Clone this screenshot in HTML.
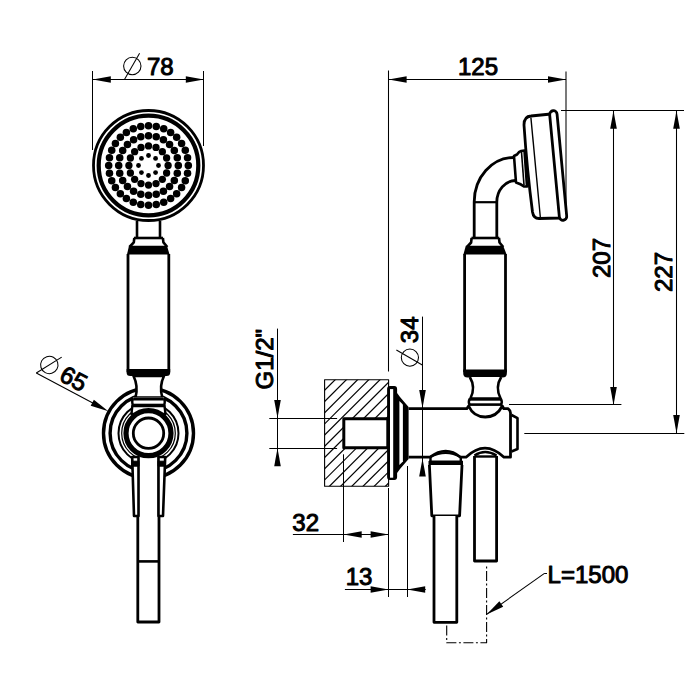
<!DOCTYPE html>
<html><head><meta charset="utf-8"><style>
html,body{margin:0;padding:0;background:#fff;}
svg{display:block;}
text{font-family:"Liberation Sans",sans-serif;fill:#000;stroke:none;}
.b{stroke:#000;stroke-width:1.0px;}
</style></head><body>
<svg width="700" height="700" viewBox="0 0 700 700" stroke="#000" fill="none" stroke-linecap="butt" stroke-linejoin="round">
<rect x="0" y="0" width="700" height="700" fill="#fff" stroke="none"/>
<line x1="92.5" y1="71" x2="92.5" y2="150" stroke-width="1.05" />
<line x1="203.5" y1="71" x2="203.5" y2="146" stroke-width="1.05" />
<line x1="92.8" y1="79.5" x2="203.8" y2="79.5" stroke-width="1.05" />
<polygon points="92.80,79.50 110.80,76.20 110.80,82.80" fill="#000" stroke="none"/>
<polygon points="203.80,79.50 185.80,82.80 185.80,76.20" fill="#000" stroke="none"/>
<g transform="translate(124.6,79.2) rotate(0)"><circle cx="7.7" cy="-13.2" r="8.7" stroke-width="1.05" fill="none"/><line x1="0" y1="0" x2="15" y2="-25.9" stroke-width="1.05"/><text x="22.4" y="-4.2" font-size="24" class="b">78</text></g>
<circle cx="148.5" cy="165.5" r="55" stroke-width="2.8" fill="#fff"/>
<circle cx="148.5" cy="165.5" r="49.8" stroke-width="4.2" fill="none"/>
<circle cx="148.50" cy="155.50" r="2.4" fill="#000" stroke="none"/>
<circle cx="155.57" cy="158.43" r="2.4" fill="#000" stroke="none"/>
<circle cx="158.50" cy="165.50" r="2.4" fill="#000" stroke="none"/>
<circle cx="155.57" cy="172.57" r="2.4" fill="#000" stroke="none"/>
<circle cx="148.50" cy="175.50" r="2.4" fill="#000" stroke="none"/>
<circle cx="141.43" cy="172.57" r="2.4" fill="#000" stroke="none"/>
<circle cx="138.50" cy="165.50" r="2.4" fill="#000" stroke="none"/>
<circle cx="141.43" cy="158.43" r="2.4" fill="#000" stroke="none"/>
<circle cx="148.50" cy="145.90" r="3.65" fill="#000" stroke="none"/>
<circle cx="156.00" cy="147.39" r="3.65" fill="#000" stroke="none"/>
<circle cx="162.36" cy="151.64" r="3.65" fill="#000" stroke="none"/>
<circle cx="166.61" cy="158.00" r="3.65" fill="#000" stroke="none"/>
<circle cx="168.10" cy="165.50" r="3.65" fill="#000" stroke="none"/>
<circle cx="166.61" cy="173.00" r="3.65" fill="#000" stroke="none"/>
<circle cx="162.36" cy="179.36" r="3.65" fill="#000" stroke="none"/>
<circle cx="156.00" cy="183.61" r="3.65" fill="#000" stroke="none"/>
<circle cx="148.50" cy="185.10" r="3.65" fill="#000" stroke="none"/>
<circle cx="141.00" cy="183.61" r="3.65" fill="#000" stroke="none"/>
<circle cx="134.64" cy="179.36" r="3.65" fill="#000" stroke="none"/>
<circle cx="130.39" cy="173.00" r="3.65" fill="#000" stroke="none"/>
<circle cx="128.90" cy="165.50" r="3.65" fill="#000" stroke="none"/>
<circle cx="130.39" cy="158.00" r="3.65" fill="#000" stroke="none"/>
<circle cx="134.64" cy="151.64" r="3.65" fill="#000" stroke="none"/>
<circle cx="141.00" cy="147.39" r="3.65" fill="#000" stroke="none"/>
<circle cx="148.50" cy="135.70" r="3.75" fill="#000" stroke="none"/>
<circle cx="156.21" cy="136.72" r="3.75" fill="#000" stroke="none"/>
<circle cx="163.40" cy="139.69" r="3.75" fill="#000" stroke="none"/>
<circle cx="169.57" cy="144.43" r="3.75" fill="#000" stroke="none"/>
<circle cx="174.31" cy="150.60" r="3.75" fill="#000" stroke="none"/>
<circle cx="177.28" cy="157.79" r="3.75" fill="#000" stroke="none"/>
<circle cx="178.30" cy="165.50" r="3.75" fill="#000" stroke="none"/>
<circle cx="177.28" cy="173.21" r="3.75" fill="#000" stroke="none"/>
<circle cx="174.31" cy="180.40" r="3.75" fill="#000" stroke="none"/>
<circle cx="169.57" cy="186.57" r="3.75" fill="#000" stroke="none"/>
<circle cx="163.40" cy="191.31" r="3.75" fill="#000" stroke="none"/>
<circle cx="156.21" cy="194.28" r="3.75" fill="#000" stroke="none"/>
<circle cx="148.50" cy="195.30" r="3.75" fill="#000" stroke="none"/>
<circle cx="140.79" cy="194.28" r="3.75" fill="#000" stroke="none"/>
<circle cx="133.60" cy="191.31" r="3.75" fill="#000" stroke="none"/>
<circle cx="127.43" cy="186.57" r="3.75" fill="#000" stroke="none"/>
<circle cx="122.69" cy="180.40" r="3.75" fill="#000" stroke="none"/>
<circle cx="119.72" cy="173.21" r="3.75" fill="#000" stroke="none"/>
<circle cx="118.70" cy="165.50" r="3.75" fill="#000" stroke="none"/>
<circle cx="119.72" cy="157.79" r="3.75" fill="#000" stroke="none"/>
<circle cx="122.69" cy="150.60" r="3.75" fill="#000" stroke="none"/>
<circle cx="127.43" cy="144.43" r="3.75" fill="#000" stroke="none"/>
<circle cx="133.60" cy="139.69" r="3.75" fill="#000" stroke="none"/>
<circle cx="140.79" cy="136.72" r="3.75" fill="#000" stroke="none"/>
<circle cx="148.50" cy="125.70" r="3.75" fill="#000" stroke="none"/>
<circle cx="156.26" cy="126.46" r="3.75" fill="#000" stroke="none"/>
<circle cx="163.73" cy="128.73" r="3.75" fill="#000" stroke="none"/>
<circle cx="170.61" cy="132.41" r="3.75" fill="#000" stroke="none"/>
<circle cx="176.64" cy="137.36" r="3.75" fill="#000" stroke="none"/>
<circle cx="181.59" cy="143.39" r="3.75" fill="#000" stroke="none"/>
<circle cx="185.27" cy="150.27" r="3.75" fill="#000" stroke="none"/>
<circle cx="187.54" cy="157.74" r="3.75" fill="#000" stroke="none"/>
<circle cx="188.30" cy="165.50" r="3.75" fill="#000" stroke="none"/>
<circle cx="187.54" cy="173.26" r="3.75" fill="#000" stroke="none"/>
<circle cx="185.27" cy="180.73" r="3.75" fill="#000" stroke="none"/>
<circle cx="181.59" cy="187.61" r="3.75" fill="#000" stroke="none"/>
<circle cx="176.64" cy="193.64" r="3.75" fill="#000" stroke="none"/>
<circle cx="170.61" cy="198.59" r="3.75" fill="#000" stroke="none"/>
<circle cx="163.73" cy="202.27" r="3.75" fill="#000" stroke="none"/>
<circle cx="156.26" cy="204.54" r="3.75" fill="#000" stroke="none"/>
<circle cx="148.50" cy="205.30" r="3.75" fill="#000" stroke="none"/>
<circle cx="140.74" cy="204.54" r="3.75" fill="#000" stroke="none"/>
<circle cx="133.27" cy="202.27" r="3.75" fill="#000" stroke="none"/>
<circle cx="126.39" cy="198.59" r="3.75" fill="#000" stroke="none"/>
<circle cx="120.36" cy="193.64" r="3.75" fill="#000" stroke="none"/>
<circle cx="115.41" cy="187.61" r="3.75" fill="#000" stroke="none"/>
<circle cx="111.73" cy="180.73" r="3.75" fill="#000" stroke="none"/>
<circle cx="109.46" cy="173.26" r="3.75" fill="#000" stroke="none"/>
<circle cx="108.70" cy="165.50" r="3.75" fill="#000" stroke="none"/>
<circle cx="109.46" cy="157.74" r="3.75" fill="#000" stroke="none"/>
<circle cx="111.73" cy="150.27" r="3.75" fill="#000" stroke="none"/>
<circle cx="115.41" cy="143.39" r="3.75" fill="#000" stroke="none"/>
<circle cx="120.36" cy="137.36" r="3.75" fill="#000" stroke="none"/>
<circle cx="126.39" cy="132.41" r="3.75" fill="#000" stroke="none"/>
<circle cx="133.27" cy="128.73" r="3.75" fill="#000" stroke="none"/>
<circle cx="140.74" cy="126.46" r="3.75" fill="#000" stroke="none"/>
<line x1="137" y1="221" x2="137" y2="238.5" stroke-width="2.6" />
<line x1="160" y1="221" x2="160" y2="238.5" stroke-width="2.6" />
<path d="M134,238 L163,238" stroke-width="2.6" fill="none" />
<path d="M134.3,238 L133.8,242.3 L129.5,247" stroke-width="2.6" fill="none" />
<path d="M162.9,238 L163.4,242.3 L167.3,247" stroke-width="2.6" fill="none" />
<polygon points="129,245.8 167,245.8 169.5,254.5 127,254.5" fill="#000" stroke="none"/>
<line x1="128" y1="254" x2="128" y2="372" stroke-width="2.8" />
<line x1="168.8" y1="254" x2="168.8" y2="372" stroke-width="2.8" />
<path d="M126.6,369 L170.2,369 L170.2,372.5 Q170.2,376 166.5,376 L130.3,376 Q126.6,376 126.6,372.5 Z" stroke-width="0" fill="#000" />
<circle cx="148.5" cy="433.2" r="45" stroke-width="3.4" fill="none"/>
<circle cx="148.5" cy="433.2" r="38.4" stroke-width="3.4" fill="none"/>
<circle cx="148.5" cy="433.2" r="30" stroke-width="2.0" fill="none"/>
<circle cx="148.5" cy="433.2" r="26.8" stroke-width="1.2" fill="none"/>
<path d="M133.5,376 Q138.5,386 135.5,397.5 L162.3,397.5 Q159,386 164,376 Z" stroke-width="2.6" fill="#fff" />
<path d="M133,397.5 L164,397.5 Q166,401 164,406 L133,406 Q131,401 133,397.5 Z" stroke-width="0" fill="#fff" />
<line x1="133.5" y1="399" x2="163.5" y2="399" stroke-width="3.0" />
<line x1="133.5" y1="404.9" x2="163.5" y2="404.9" stroke-width="2.4" />
<path d="M133,398 Q131.5,401.5 133,406" stroke-width="2.4" fill="none" />
<path d="M164,398 Q165.5,401.5 164,406" stroke-width="2.4" fill="none" />
<path d="M132.3,406 L131.5,414 L165.5,414 L164.5,406 Z" stroke-width="2.4" fill="#fff" />
<path d="M137.8,457 L137.8,622 L159,622 L159,457" stroke-width="2.8" fill="#fff" />
<line x1="137.8" y1="561.4" x2="159" y2="561.4" stroke-width="2.6" />
<path d="M132.2,457 L138.5,457 L138.5,516 L134,516 Z" stroke-width="2.6" fill="#fff" />
<path d="M165.2,457 L158.5,457 L158.5,516 L163,516 Z" stroke-width="2.6" fill="#fff" />
<rect x="131.5" y="461.2" width="7.5" height="5" fill="#000"/>
<rect x="158" y="461.2" width="7.5" height="5" fill="#000"/>
<circle cx="148.5" cy="433.2" r="22.5" stroke-width="5.2" fill="#fff"/>
<circle cx="148.5" cy="433.2" r="15.2" stroke-width="2.8" fill="none"/>
<g transform="translate(36.3,373.0) rotate(28)"><line x1="0" y1="0" x2="64" y2="0" stroke-width="1.05"/><polygon points="81.6,0 63.4,-3.4 63.4,3.4" fill="#000" stroke="none"/></g>
<g transform="translate(36.3,373.0) rotate(28)"><circle cx="7.7" cy="-13.2" r="8.7" stroke-width="1.05" fill="none"/><line x1="0" y1="0" x2="15" y2="-25.9" stroke-width="1.05"/><text x="22.4" y="-4.2" font-size="24" class="b">65</text></g>
<line x1="388.5" y1="70.6" x2="388.5" y2="371.4" stroke-width="1.05" />
<line x1="388.6" y1="79.5" x2="566" y2="79.5" stroke-width="1.05" />
<polygon points="388.60,79.50 406.60,76.20 406.60,82.80" fill="#000" stroke="none"/>
<polygon points="566.00,79.50 548.00,82.80 548.00,76.20" fill="#000" stroke="none"/>
<text x="478" y="75" font-size="24" text-anchor="middle" class="b">125</text>
<line x1="561" y1="110.5" x2="684" y2="110.5" stroke-width="1.05" />
<line x1="613.5" y1="110.8" x2="613.5" y2="405" stroke-width="1.05" />
<polygon points="613.50,110.80 616.80,128.80 610.20,128.80" fill="#000" stroke="none"/>
<polygon points="613.50,405.00 610.20,387.00 616.80,387.00" fill="#000" stroke="none"/>
<line x1="509" y1="404.5" x2="621.4" y2="404.5" stroke-width="1.05" />
<line x1="676.5" y1="110.8" x2="676.5" y2="433" stroke-width="1.05" />
<polygon points="676.50,110.80 679.80,128.80 673.20,128.80" fill="#000" stroke="none"/>
<polygon points="676.50,433.00 673.20,415.00 679.80,415.00" fill="#000" stroke="none"/>
<line x1="524.3" y1="433.5" x2="684.3" y2="433.5" stroke-width="1.05" />
<text x="0" y="0" font-size="24" text-anchor="middle" transform="translate(610,258) rotate(-90)" class="b">207</text>
<text x="0" y="0" font-size="24" text-anchor="middle" transform="translate(672,272) rotate(-90)" class="b">227</text>
<path d="M524,125 Q524,116.5 531,116 L551,114 L560,218 L539,218.5 Q533.5,218.5 532.5,212 Q527,170 524,125 Z" stroke-width="2.8" fill="#fff" />
<line x1="530.9" y1="117.6" x2="540.4" y2="218" stroke-width="1.4" />
<g transform="translate(558.2,165.5) rotate(-5.4)"><rect x="-3.7" y="-55" width="7.4" height="110" rx="3.7" stroke-width="2.8" fill="#fff"/></g>
<line x1="566" y1="71.6" x2="566" y2="214" stroke-width="1.05"/>
<path d="M514,156 L517,154.5 Q519,151.5 521,151 L524.5,150.5 L527,186.5 L524,186.5 Q521,184 516,182.5 Z" stroke-width="2.6" fill="#fff" />
<line x1="521.5" y1="152" x2="524" y2="185" stroke-width="1.6" />
<path d="M474.2,238.5 L474.2,202 A39.5 44.5 0 0 1 513.7,157.5" stroke-width="2.8" fill="none" />
<path d="M496.8,238.5 L496.8,202 A18.7 21.5 0 0 1 515.5,180.5" stroke-width="2.8" fill="none" />
<line x1="474.2" y1="202.2" x2="496.8" y2="202.2" stroke-width="2.2" />
<path d="M471.4,238 L499.3,238" stroke-width="2.6" fill="none" />
<path d="M471.6,238 L471.1,242.5 L467,247" stroke-width="2.6" fill="none" />
<path d="M499,238 L499.5,242.5 L503.2,247" stroke-width="2.6" fill="none" />
<polygon points="465.8,245.8 503.2,245.8 506.6,254.5 463.4,254.5" fill="#000" stroke="none"/>
<line x1="464.6" y1="254" x2="464.6" y2="372" stroke-width="2.8" />
<line x1="505.5" y1="254" x2="505.5" y2="372" stroke-width="2.8" />
<path d="M463.2,369.6 L506.9,369.6 L506.9,373 Q506.9,377.6 502.5,377.6 L467.6,377.6 Q463.2,377.6 463.2,373 Z" stroke-width="0" fill="#000" />
<path d="M469.8,377 Q476,387.4 470.4,398.5 L500.6,398.5 Q494.8,387.4 501.2,377" stroke-width="2.6" fill="#fff" />
<line x1="469.5" y1="399.4" x2="501" y2="399.4" stroke-width="2.6" />
<line x1="469.5" y1="404.6" x2="501" y2="404.6" stroke-width="2.6" />
<path d="M469.8,398.6 Q467.8,402 469.8,405.4" stroke-width="2.4" fill="none" />
<path d="M500.8,398.6 Q502.8,402 500.8,405.4" stroke-width="2.4" fill="none" />
<path d="M474.5,456 L474.5,561 L496.6,561 L496.6,456" stroke-width="2.8" fill="#fff" />
<path d="M408.6,408.7 L466.8,408.7 L468.6,406 C472,413.5 478,417 485.3,417 C492.5,417 498.5,413.5 502.3,406 L503.8,408.7 L508,408.7 Q510.5,410.5 510.5,413 L510.5,457.2 L504,457.2 Q485,439 466,457.2 L460.5,457.2 Q446,445 430,457.2 L408.6,457.2" stroke-width="2.8" fill="#fff" />
<path d="M511.5,415 L517.5,418.2 L517.5,449 L511.5,451.5" stroke-width="2.6" fill="none" />
<line x1="474.5" y1="456.5" x2="496.5" y2="456.5" stroke-width="2.4" />
<path d="M474.5,455.5 Q485,448.5 496.5,455.5" stroke-width="2.6" fill="none" />
<path d="M430.3,457 Q446,449 460.5,457" stroke-width="2.0" fill="none" />
<rect x="429" y="461" width="33.5" height="4.5" fill="#000"/>
<line x1="430.5" y1="457" x2="430.5" y2="462" stroke-width="2.4" />
<line x1="460.8" y1="457" x2="460.8" y2="462" stroke-width="2.4" />
<path d="M429.4,465 L431.8,515.8 L459.6,515.8 L462,465" stroke-width="2.8" fill="#fff" />
<path d="M434,516 L434,622.3 L456.8,622.3 L456.8,516" stroke-width="2.8" fill="#fff" />
<path d="M387.1,389 Q387.1,386 390,386 L394.3,386 Q397.1,386 397.1,389 L397.1,392.9 L400,396.9 L408.6,407.1 L408.6,458.9 L400,469.1 L397.1,473.1 L397.1,477 Q397.1,480 394.3,480 L390,480 Q387.1,480 387.1,477 Z" stroke-width="0" fill="#000" />
<rect x="390" y="389.1" width="3.2" height="88.6" fill="#fff" stroke="none"/>
<polygon points="399.4,401 402.9,404.6 402.9,461.4 399.4,465" fill="#fff" stroke="none"/>
<clipPath id="wc"><rect x="324.6" y="379.7" width="64" height="106.5"/></clipPath>
<g clip-path="url(#wc)" stroke-width="1.2"><line x1="111.70" y1="491.2" x2="228.20" y2="374.7"/><line x1="122.90" y1="491.2" x2="239.40" y2="374.7"/><line x1="134.10" y1="491.2" x2="250.60" y2="374.7"/><line x1="145.30" y1="491.2" x2="261.80" y2="374.7"/><line x1="156.50" y1="491.2" x2="273.00" y2="374.7"/><line x1="167.70" y1="491.2" x2="284.20" y2="374.7"/><line x1="178.90" y1="491.2" x2="295.40" y2="374.7"/><line x1="190.10" y1="491.2" x2="306.60" y2="374.7"/><line x1="201.30" y1="491.2" x2="317.80" y2="374.7"/><line x1="212.50" y1="491.2" x2="329.00" y2="374.7"/><line x1="223.70" y1="491.2" x2="340.20" y2="374.7"/><line x1="234.90" y1="491.2" x2="351.40" y2="374.7"/><line x1="246.10" y1="491.2" x2="362.60" y2="374.7"/><line x1="257.30" y1="491.2" x2="373.80" y2="374.7"/><line x1="268.50" y1="491.2" x2="385.00" y2="374.7"/><line x1="279.70" y1="491.2" x2="396.20" y2="374.7"/><line x1="290.90" y1="491.2" x2="407.40" y2="374.7"/><line x1="302.10" y1="491.2" x2="418.60" y2="374.7"/><line x1="313.30" y1="491.2" x2="429.80" y2="374.7"/><line x1="324.50" y1="491.2" x2="441.00" y2="374.7"/><line x1="335.70" y1="491.2" x2="452.20" y2="374.7"/><line x1="346.90" y1="491.2" x2="463.40" y2="374.7"/><line x1="358.10" y1="491.2" x2="474.60" y2="374.7"/><line x1="369.30" y1="491.2" x2="485.80" y2="374.7"/><line x1="380.50" y1="491.2" x2="497.00" y2="374.7"/><line x1="391.70" y1="491.2" x2="508.20" y2="374.7"/></g>
<rect x="324.6" y="379.7" width="64.0" height="106.5" stroke-width="1.1" fill="none"/>
<rect x="343.8" y="418.7" width="44" height="29" stroke-width="3" fill="#fff"/>
<line x1="269.3" y1="418.5" x2="337.1" y2="418.5" stroke-width="1.05" />
<line x1="269.3" y1="448.5" x2="337.1" y2="448.5" stroke-width="1.05" />
<line x1="277.5" y1="328.6" x2="277.5" y2="466" stroke-width="1.05" />
<polygon points="277.50,418.00 274.20,400.00 280.80,400.00" fill="#000" stroke="none"/>
<polygon points="277.50,448.30 280.80,466.30 274.20,466.30" fill="#000" stroke="none"/>
<text x="0" y="0" font-size="24" text-anchor="middle" transform="translate(272.7,359.2) rotate(-90)" class="b">G1/2"</text>
<line x1="422.5" y1="316.6" x2="422.5" y2="474" stroke-width="1.05" />
<polygon points="422.50,408.00 419.20,390.00 425.80,390.00" fill="#000" stroke="none"/>
<polygon points="422.50,458.50 425.80,476.50 419.20,476.50" fill="#000" stroke="none"/>
<g transform="translate(422.3,365) rotate(-90)"><circle cx="7.4" cy="-12.4" r="8.6" stroke-width="1.05" fill="none"/><line x1="0" y1="0" x2="15" y2="-25.9" stroke-width="1.05"/><text x="21.8" y="-4.2" font-size="24" class="b">34</text></g>
<line x1="343.5" y1="454.3" x2="343.5" y2="542" stroke-width="1.05" />
<line x1="388.5" y1="488" x2="388.5" y2="597" stroke-width="1.05" />
<line x1="407.5" y1="466" x2="407.5" y2="597" stroke-width="1.05" />
<line x1="292.9" y1="534.5" x2="388.6" y2="534.5" stroke-width="1.05" />
<polygon points="343.70,534.50 361.70,531.20 361.70,537.80" fill="#000" stroke="none"/>
<polygon points="388.60,534.50 370.60,537.80 370.60,531.20" fill="#000" stroke="none"/>
<text x="305.7" y="531" font-size="24" text-anchor="middle" class="b">32</text>
<line x1="344.9" y1="589.5" x2="425.7" y2="589.5" stroke-width="1.05" />
<polygon points="388.60,589.50 370.60,592.80 370.60,586.20" fill="#000" stroke="none"/>
<polygon points="407.20,589.50 425.20,586.20 425.20,592.80" fill="#000" stroke="none"/>
<text x="359" y="585" font-size="24" text-anchor="middle" class="b">13</text>
<path d="M446.7,625.4 L446.7,642.7 L486.6,642.7 L486.6,564" stroke-width="1.1" fill="none" stroke-dasharray="10,2.5,2,2.5"/>
<line x1="486.6" y1="614.4" x2="544.1" y2="573.6" stroke-width="1.05" />
<polygon points="486.60,614.40 499.37,601.29 503.19,606.67" fill="#000" stroke="none"/>
<line x1="544.1" y1="573.5" x2="547" y2="573.5" stroke-width="1.05" />
<text x="588" y="583" font-size="24" text-anchor="middle" class="b">L=1500</text>
</svg></body></html>
